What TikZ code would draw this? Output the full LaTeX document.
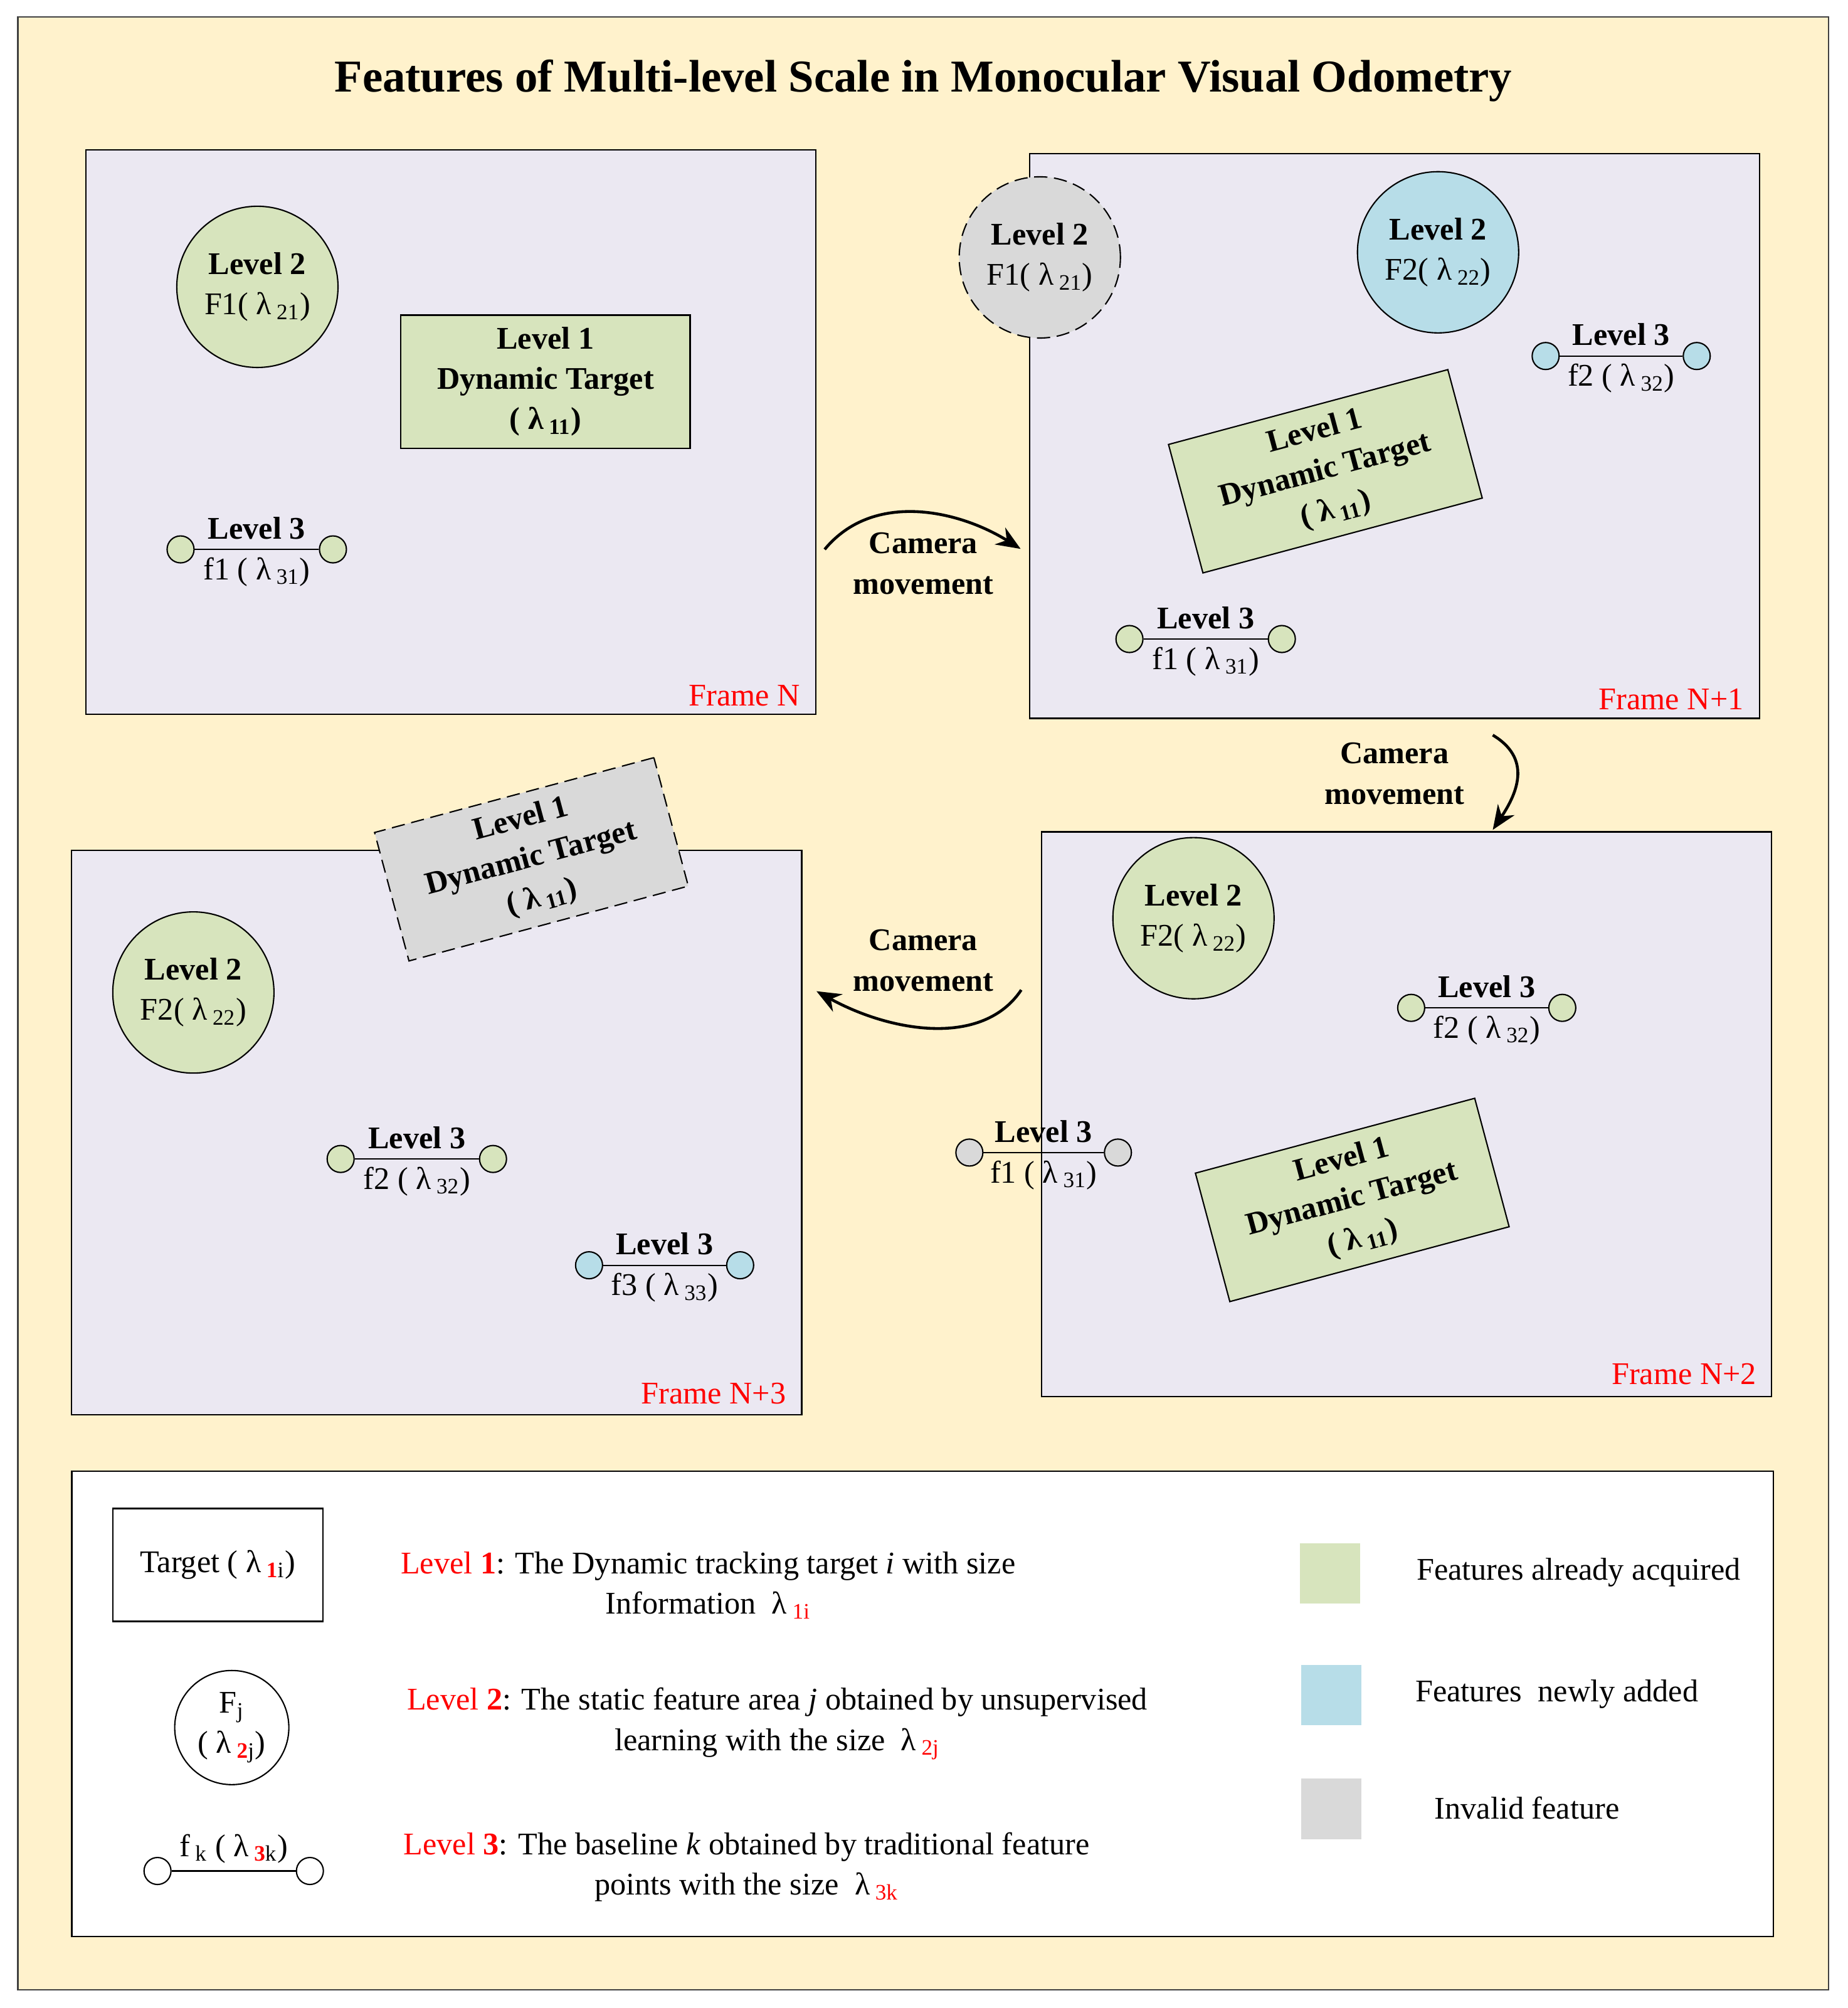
\documentclass[tikz,border=0pt]{standalone}
\usepackage{fontspec}
\setmainfont{Liberation Serif}
\usetikzlibrary{arrows.meta}
\definecolor{creambg}{RGB}{255,242,204}
\definecolor{framebg}{RGB}{235,232,242}
\definecolor{acqgreen}{RGB}{215,228,189}
\definecolor{newblue}{RGB}{183,221,232}
\definecolor{badgray}{RGB}{217,217,217}
\newcommand{\ftxt}{\fontsize{14.3}{18.3}\selectfont}
\newcommand{\lam}[1]{λ\,\textsubscript{#1}}
\newcommand{\featline}[7]{%
  \node[dot, fill=#5] (#1a) at (#2,#4) {};
  \node[dot, fill=#5] (#1b) at (#3,#4) {};
  \draw[line width=0.6pt] (#1a) -- (#1b)
    node[midway, above=1pt, font=\ftxt\bfseries] (#1t) {#6}
    node[midway, below=0pt, font=\ftxt] (#1s) {#7};}
\tikzset{
  framebox/.style={draw, fill=framebg, line width=0.6pt, minimum width=11.64cm, minimum height=9cm, inner sep=0},
  lvone/.style={draw, fill=acqgreen, line width=0.6pt, minimum width=4.61cm, minimum height=2.12cm, align=center, font=\ftxt\bfseries, inner sep=0},
  lvtwo/.style={circle, draw, fill=acqgreen, line width=0.6pt, minimum size=2.57cm, align=center, font=\ftxt, inner sep=0},
  dot/.style={circle, draw, line width=0.6pt, minimum size=0.43cm, inner sep=0},
  lost/.style={fill=badgray, dash pattern=on 6pt off 3pt},
  framelbl/.style={anchor=base east, text=red, font=\ftxt, inner sep=0},
  cam/.style={align=center, font=\ftxt\bfseries},
  camarrow/.style={line width=1.3pt, -{Stealth[length=11pt, width=9pt]}},
  swatch/.style={minimum size=0.96cm, inner sep=0},
  keytxt/.style={anchor=west, font=\ftxt, inner sep=0}
}
\begin{document}
\begin{tikzpicture}[x=0.020416cm, y=-0.020416cm]
                \useasboundingbox (0,0) rectangle (1443,1568);
                \node[draw=black!75, fill=creambg, line width=0.6pt, minimum width=28.87cm, minimum height=31.46cm, inner sep=0] (bg) at (721,783.5) {};
                \node[font=\fontsize{20.7}{25}\selectfont\bfseries] (title) at (721,63) {Features of Multi-level Scale in Monocular Visual Odometry};
                \node[framebox] (fN) at (352,337.5) {};
                \node[framebox] (fN1) at (1089,340.5) {};
                \node[framebox] (fN2) at (1098.5,870) {};
                \node[framebox] (fN3) at (341,884.5) {};
                \node[lvtwo] (nF1) at (201,224) {\textbf{Level 2}\\F1( \lam{21})};
                \node[lvone] (nT) at (426,298) {Level 1\\Dynamic Target\\( \lam{11})};
                \featline{nf1}{141}{260}{429}{acqgreen}{Level 3}{f1 ( \lam{31})}
                \node[framelbl] (lN) at (625,551) {Frame N};
                \node[lvtwo, lost] (aF1) at (812,201) {\textbf{Level 2}\\F1( \lam{21})};
                \node[lvtwo, fill=newblue] (aF2) at (1123,197) {\textbf{Level 2}\\F2( \lam{22})};
                \featline{af2}{1207}{1325}{278}{newblue}{Level 3}{f2 ( \lam{32})}
                \node[lvone, rotate=15] (aT) at (1035,368) {Level 1\\Dynamic Target\\( \lam{11})};
                \featline{af1}{882}{1001}{499}{acqgreen}{Level 3}{f1 ( \lam{31})}
                \node[framelbl] (lN1) at (1362,554) {Frame N+1};
                \node[lvtwo] (bF2) at (932,717) {\textbf{Level 2}\\F2( \lam{22})};
                \featline{bf2}{1102}{1220}{787}{acqgreen}{Level 3}{f2 ( \lam{32})}
                \featline{bf1}{757}{873}{900}{badgray}{Level 3}{f1 ( \lam{31})}
                \node[lvone, rotate=15] (bT) at (1056,937) {Level 1\\Dynamic Target\\( \lam{11})};
                \node[framelbl] (lN2) at (1372,1081) {Frame N+2};
                \node[lvone, lost, rotate=15] (cT) at (415,671) {Level 1\\Dynamic Target\\( \lam{11})};
                \node[lvtwo] (cF2) at (151,775) {\textbf{Level 2}\\F2( \lam{22})};
                \featline{cf2}{266}{385}{905}{acqgreen}{Level 3}{f2 ( \lam{32})}
                \featline{cf3}{460}{578}{988}{newblue}{Level 3}{f3 ( \lam{33})}
                \node[framelbl] (lN3) at (614,1096) {Frame N+3};
                \coordinate (m1s) at (644,429);
                \coordinate (m1e) at (797,428.6);
                \draw[camarrow] (m1s) .. controls +(38,-46) and +(-48,-30) .. (m1e);
                \node[cam] (m1) at (721,440) {Camera\\movement};
                \coordinate (m2s) at (1165.7,574);
                \coordinate (m2e) at (1165.7,648);
                \draw[camarrow] (m2s) .. controls +(30,18) and +(20,-30) .. (m2e);
                \node[cam] (m2) at (1089,604) {Camera\\movement};
                \coordinate (m3s) at (797.5,773);
                \coordinate (m3e) at (637.6,774);
                \draw[camarrow] (m3s) .. controls +(-30,45) and +(58,32) .. (m3e);
                \node[cam] (m3) at (721,750) {Camera\\movement};
                \node[draw, fill=white, line width=0.6pt, minimum width=27.13cm, minimum height=7.41cm, inner sep=0] (leg) at (720.5,1330.5) {};
                \node[draw, line width=0.6pt, minimum width=3.35cm, minimum height=1.8cm, font=\ftxt] (kT) at (170,1222) {Target ( λ\,\textsubscript{\textcolor{red}{\textbf{1}}i})};
                \node[circle, draw, line width=0.6pt, minimum size=1.82cm, inner sep=0, align=center, font=\ftxt] (kF) at (181,1349) {F\textsubscript{j}\\( λ\,\textsubscript{\textcolor{red}{\textbf{2}}j})};
                \node[dot] (kfa) at (123,1461) {};
                \node[dot] (kfb) at (242,1461) {};
                \draw[line width=0.6pt] (kfa) -- (kfb) node[midway, above=0pt, font=\ftxt] (kft) {f\,\textsubscript{k} ( λ\,\textsubscript{\textcolor{red}{\textbf{3}}k})};
                \node[align=center, font=\ftxt] (k1) at (553,1238) {\textcolor{red}{Level \textbf{1}}: The Dynamic tracking target \textit{i} with size\\Information~ λ\,\textsubscript{\textcolor{red}{1i}}};
                \node[align=center, font=\ftxt] (k2) at (607,1346) {\textcolor{red}{Level \textbf{2}}: The static feature area \textit{j} obtained by unsupervised\\learning with the size~ λ\,\textsubscript{\textcolor{red}{2j}}};
                \node[align=center, font=\ftxt] (k3) at (583,1458) {\textcolor{red}{Level \textbf{3}}: The baseline \textit{k} obtained by traditional feature\\points with the size~ λ\,\textsubscript{\textcolor{red}{3k}}};
                \node[swatch, fill=acqgreen] (sA) at (1038.5,1228.5) {};
                \node[swatch, fill=newblue] (sB) at (1039.5,1323.5) {};
                \node[swatch, fill=badgray] (sC) at (1039.5,1412.5) {};
                \node[keytxt] (tA) at (1106,1228) {Features already acquired};
                \node[keytxt] (tB) at (1105,1323) {Features\ \ newly added};
                \node[keytxt] (tC) at (1120,1412) {Invalid feature};
\end{tikzpicture}
\end{document}
